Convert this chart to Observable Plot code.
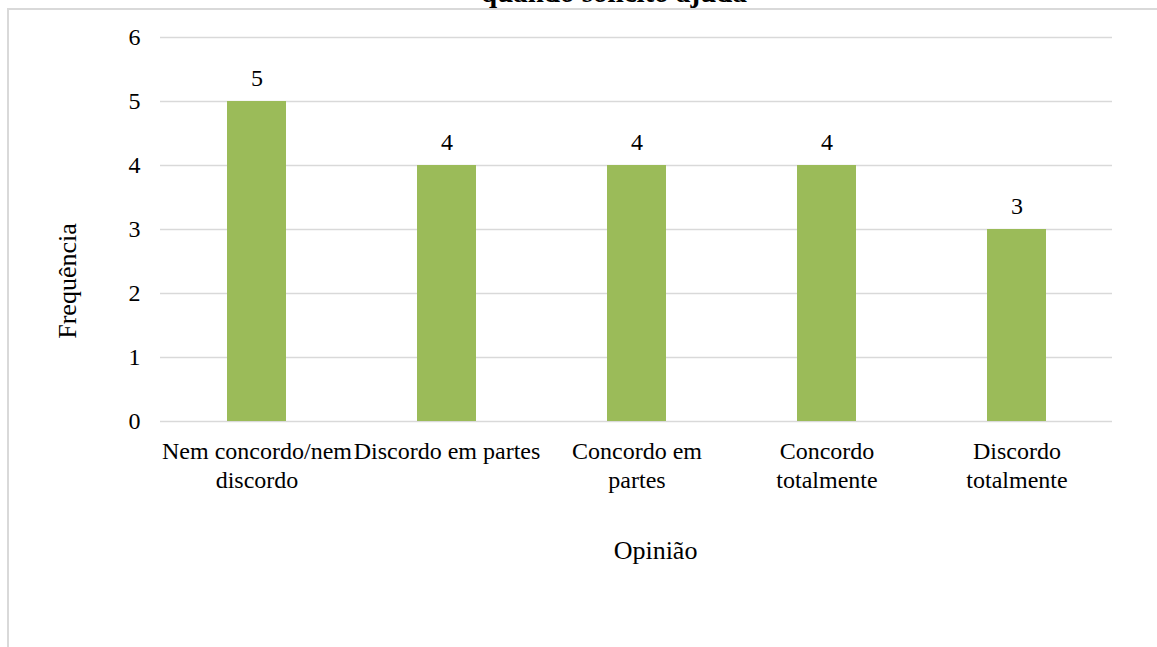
<!DOCTYPE html>
<html>
<head>
<meta charset="utf-8">
<script src="https://cdn.jsdelivr.net/npm/d3@7"></script>
<script src="https://cdn.jsdelivr.net/npm/@observablehq/plot@0.6"></script>
<style>
  html, body { margin: 0; padding: 0; background: #fff; }
  #wrap { position: relative; width: 1157px; height: 647px; overflow: hidden; font-family: "Liberation Serif", "Times New Roman", serif; }
  #frame { position: absolute; left: 7px; top: 8px; width: 1200px; height: 700px; border-left: 2px solid #d9d9d9; border-top: 2px solid #d9d9d9; }
  #title { position: absolute; left: 0; width: 1228px; text-align: center; top: -24px; font-size: 29px; line-height: 32px; font-weight: bold; color: #000; white-space: nowrap; }
  #ytitle { position: absolute; left: 68px; top: 281px; transform: translate(-50%, -50%) rotate(-90deg); font-size: 26px; line-height: 1; color: #000; white-space: nowrap; }
  #chart { position: absolute; left: 0; top: 0; }
</style>
</head>
<body>
<div id="wrap">
  <div id="frame"></div>
  <div id="title">quando solicito ajuda</div>
  <div id="chart"></div>
  <div id="ytitle"></div>
</div>
<script>
const categories = ["Nem concordo/nem discordo", "Discordo em partes", "Concordo em partes", "Concordo totalmente", "Discordo totalmente"];
const tickLabels = ["Nem concordo/nem\ndiscordo", "Discordo em partes", "Concordo em\npartes", "Concordo\ntotalmente", "Discordo\ntotalmente"];
const frequencies = [5, 4, 4, 4, 3];
const yTicks = [0, 1, 2, 3, 4, 5, 6];
const yTitle = "Frequência";
const xTitle = ["Opinião"];

const data = categories.map((c, i) => ({opiniao: c, freq: frequencies[i]}));
const labelOf = new Map(categories.map((c, i) => [c, tickLabels[i]]));

const chart = Plot.plot({
  width: 1157,
  height: 647,
  marginLeft: 160,
  marginRight: 45,
  marginTop: 37,
  marginBottom: 226,
  style: {fontFamily: "'Liberation Serif', 'Times New Roman', serif", fontSize: "24px", color: "#000", background: "transparent"},
  x: {domain: categories, paddingInner: 0.69, paddingOuter: 0.345},
  y: {domain: [0, 6]},
  marks: [
    Plot.ruleY(yTicks, {stroke: "#d9d9d9", strokeWidth: 1.6}),
    Plot.barY(data, {x: "opiniao", y: "freq", fill: "#9bbb59"}),
    Plot.text(data, {x: "opiniao", y: "freq", text: d => String(d.freq), dy: -23, fontSize: 24, fill: "#000"}),
    Plot.axisY({ticks: yTicks, tickSize: 0, tickPadding: 20, fontSize: 24, tickFormat: d => String(d), label: null}),
    Plot.axisX({tickSize: 0, tickPadding: 18, fontSize: 24, lineHeight: 1.17, tickFormat: d => labelOf.get(d), label: null}),
    Plot.text(xTitle, {text: d => d, frameAnchor: "bottom", dx: 19, dy: 137, fontSize: 26, fill: "#000"})
  ]
});
document.getElementById("chart").appendChild(chart);
document.getElementById("ytitle").textContent = yTitle;
</script>
</body>
</html>
